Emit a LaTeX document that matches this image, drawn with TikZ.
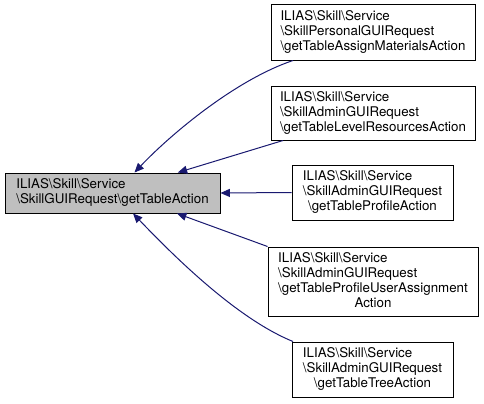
\documentclass[tikz,border=0pt]{standalone}
\usepackage{fontspec}
\setmainfont{TeX Gyre Heros}
\usetikzlibrary{arrows.meta}
\definecolor{edgeblue}{HTML}{191970}
\definecolor{boxgrey}{HTML}{BFBFBF}
\newcommand{\bsl}{\textbackslash}
\newcommand{\lbl}[2]{\begin{tabular}{@{}l@{}}#1\\\multicolumn{1}{@{}c@{}}{#2}\end{tabular}}
\tikzset{
  cls/.style 2 args={draw=black,line width=0.75pt,fill=white,inner sep=0pt,
    minimum width=#1,minimum height=#2,font=\fontsize{10}{11.25}\selectfont},
  edge/.style={draw=edgeblue,line width=0.75pt,{Triangle[length=7pt,width=6pt]}-}
}
\begin{document}
\begin{tikzpicture}[x=0.75pt,y=-0.75pt]
\useasboundingbox (0,0) rectangle (484,403);

% Draw classes
\node[cls={161.25pt}{30pt},fill=boxgrey] (main) at (112.5,193)
    {\lbl{ILIAS\bsl Skill\bsl Service}{\bsl SkillGUIRequest\bsl getTableAction}};
\node[cls={153pt}{41.25pt}] (assign) at (373,32.5)
    {\lbl{ILIAS\bsl Skill\bsl Service\\\bsl SkillPersonalGUIRequest}{\bsl getTableAssignMaterialsAction}};
\node[cls={153pt}{40.5pt}] (level) at (373,113)
    {\lbl{ILIAS\bsl Skill\bsl Service\\\bsl SkillAdminGUIRequest}{\bsl getTableLevelResourcesAction}};
\node[cls={120.75pt}{41.25pt}] (profile) at (372.5,192.5)
    {\lbl{ILIAS\bsl Skill\bsl Service\\\bsl SkillAdminGUIRequest}{\bsl getTableProfileAction}};
\node[cls={157.5pt}{51.75pt}] (userassign) at (373,281.5)
    {\lbl{ILIAS\bsl Skill\bsl Service\\\bsl SkillAdminGUIRequest\\\bsl getTableProfileUserAssignment}{Action}};
\node[cls={120.75pt}{41.25pt}] (tree) at (372.5,369.5)
    {\lbl{ILIAS\bsl Skill\bsl Service\\\bsl SkillAdminGUIRequest}{\bsl getTableTreeAction}};

% Draw calls
\draw[edge] ([xshift=16.5pt]main.north) .. controls (170,135) and (235,80) .. ([xshift=-60pt]assign.south);
\draw[edge] ([xshift=49pt]main.north) -- ([xshift=-67.5pt]level.south);
\draw[edge] (main.east) -- (profile.west);
\draw[edge] ([xshift=48.4pt]main.south) -- (userassign.north west);
\draw[edge] ([xshift=15.4pt]main.south) .. controls (170,252) and (235,318) .. ([xshift=-59.6pt]tree.north);
\end{tikzpicture}
\end{document}
